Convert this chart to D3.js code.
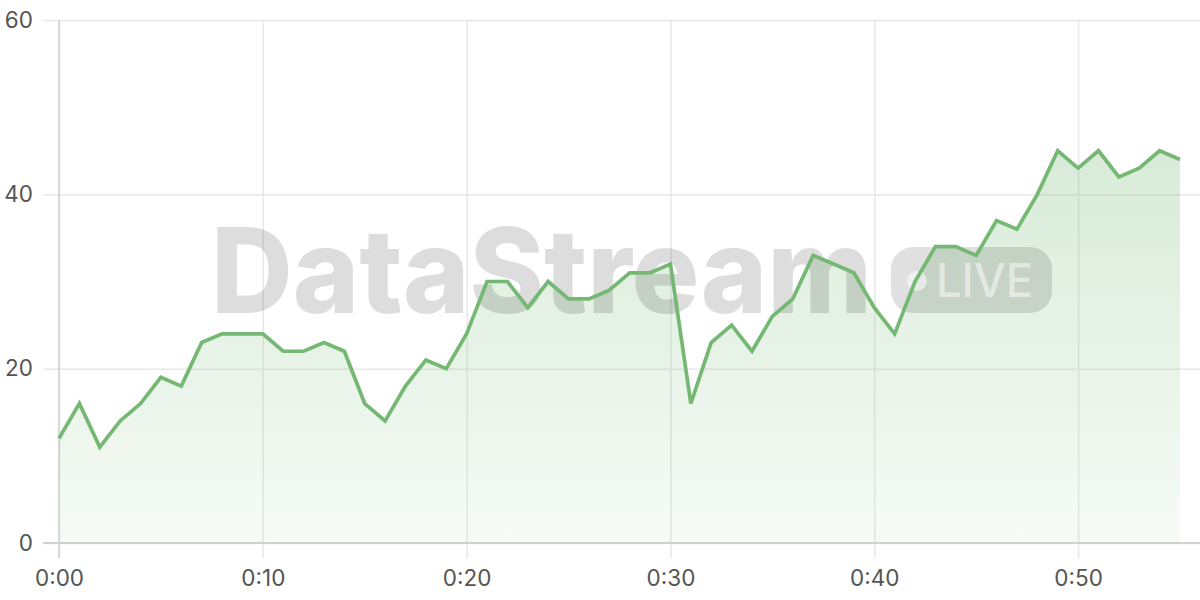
<!DOCTYPE html>
<html>
<head>
<meta charset="utf-8">
<script src="https://cdn.jsdelivr.net/npm/d3@7"></script>
<style>
  html, body { margin: 0; padding: 0; background: #fff; }
  svg { display: block; font-family: Inter, "Noto Sans", sans-serif; }
</style>
</head>
<body>
<div id="chart"></div>
<script>
// minutes since start
var minutes = d3.range(0, 56);
var values = [12, 16, 11, 14, 16, 19, 18, 23, 24, 24, 24, 22, 22, 23, 22, 16, 14, 18, 21, 20,
              24, 30, 30, 27, 30, 28, 28, 29, 31, 31, 32, 16, 23, 25, 22, 26, 28, 33, 32, 31,
              27, 24, 30, 34, 34, 33, 37, 36, 40, 45, 43, 45, 42, 43, 45, 44];
var xTicks = [0, 10, 20, 30, 40, 50];
var yTicks = [0, 20, 40, 60];

var largeur = 1200, hauteur = 600;
var marges = {haut: 20, droite: 20, bas: 57, gauche: 59};
var vert = "#74b873";
var police = "Inter, 'Noto Sans', sans-serif";

var svg = d3.select("#chart").append("svg")
    .attr("width", largeur)
    .attr("height", hauteur);

var x = d3.scaleLinear().domain([0, 55]).range([marges.gauche, largeur - marges.droite]);
var y = d3.scaleLinear().domain([0, 60]).range([hauteur - marges.bas, marges.haut]);

function fmt(m) { return Math.floor(m / 60) + ":" + d3.format("02")(m % 60); }

// dégradé sous la courbe
var grad = svg.append("defs").append("linearGradient")
    .attr("id", "remplissage")
    .attr("gradientUnits", "userSpaceOnUse")
    .attr("x1", 0).attr("x2", 0)
    .attr("y1", y(45)).attr("y2", y(0));
grad.append("stop").attr("offset", 0).attr("stop-color", vert).attr("stop-opacity", 0.28);
grad.append("stop").attr("offset", 1).attr("stop-color", vert).attr("stop-opacity", 0.06);

// grille horizontale
svg.append("g")
    .attr("transform", "translate(" + marges.gauche + ",0)")
    .call(d3.axisLeft(y).tickValues(yTicks).tickSize(16).tickPadding(10))
    .attr("font-family", police)
    .call(function(g) {
        g.select(".domain").remove();
        g.selectAll(".tick line").attr("x2", largeur - marges.gauche).attr("x1", -16)
            .attr("stroke", "#e8e8e8").attr("stroke-width", 1.5);
        g.selectAll(".tick text").attr("fill", "#555").attr("font-size", 22.5);
    });

// grille verticale
svg.append("g")
    .attr("transform", "translate(0," + y(0) + ")")
    .call(d3.axisBottom(x).tickValues(xTicks).tickFormat(fmt).tickSize(15).tickPadding(12))
    .attr("font-family", police)
    .call(function(g) {
        g.select(".domain").remove();
        g.selectAll(".tick line").attr("y1", y(60) - y(0))
            .attr("stroke", "#e8e8e8").attr("stroke-width", 1.5);
        g.selectAll(".tick text").attr("fill", "#555").attr("font-size", 22.5);
    });

// axes
svg.append("line")
    .attr("x1", x(0)).attr("x2", x(0))
    .attr("y1", y(60)).attr("y2", y(0) + 15)
    .attr("stroke", "#d2d2d2").attr("stroke-width", 1.5);
svg.append("line")
    .attr("x1", x(0) - 16).attr("x2", largeur)
    .attr("y1", y(0)).attr("y2", y(0))
    .attr("stroke", "#d2d2d2").attr("stroke-width", 2);

// aire
var aire = d3.area()
    .x(function(d, i) { return x(minutes[i]); })
    .y0(y(0))
    .y1(function(d) { return y(d); });
svg.append("path")
    .datum(values)
    .attr("d", aire)
    .attr("fill", "url(#remplissage)");

// filigrane
var fil = svg.append("g").attr("pointer-events", "none").attr("font-family", police);
fil.append("text")
    .attr("x", 211).attr("y", 313)
    .attr("textLength", 661)
    .attr("lengthAdjust", "spacingAndGlyphs")
    .attr("font-size", 118)
    .attr("font-weight", 800)
    .attr("fill", "rgba(0,0,0,0.135)")
    .text("DataStream");
fil.append("rect")
    .attr("x", 891).attr("y", 247)
    .attr("width", 161).attr("height", 66)
    .attr("rx", 22)
    .attr("fill", "rgba(0,0,0,0.12)");
fil.append("circle")
    .attr("cx", 917).attr("cy", 281).attr("r", 10)
    .attr("fill", "rgba(255,255,255,0.5)");
fil.append("text")
    .attr("x", 936).attr("y", 297)
    .attr("textLength", 97)
    .attr("lengthAdjust", "spacingAndGlyphs")
    .attr("font-size", 46)
    .attr("font-weight", 500)
    .attr("fill", "rgba(255,255,255,0.5)")
    .text("LIVE");

// courbe
var ligne = d3.line()
    .x(function(d, i) { return x(minutes[i]); })
    .y(function(d) { return y(d); });
svg.append("path")
    .datum(values)
    .attr("d", ligne)
    .attr("fill", "none")
    .attr("stroke", vert)
    .attr("stroke-width", 3.7)
    .attr("stroke-linejoin", "miter");
</script>
</body>
</html>
